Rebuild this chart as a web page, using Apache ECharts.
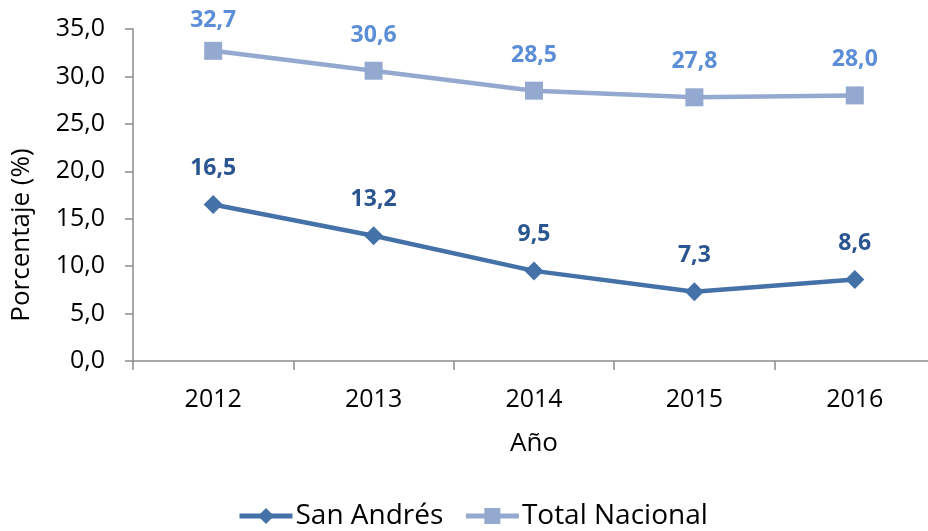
<!DOCTYPE html>
<html>
<head>
<meta charset="utf-8">
<script src="https://cdn.jsdelivr.net/npm/echarts@6/dist/echarts.min.js"></script>
<style>
  html, body { margin: 0; padding: 0; background: #fff; overflow: hidden; }
  #chart { width: 940px; height: 531px; }
</style>
</head>
<body>
<div id="chart"></div>
<script>
// datos
const years = ['2012', '2013', '2014', '2015', '2016']
const sanAndres = [16.5, 13.2, 9.5, 7.3, 8.6]
const totalNacional = [32.7, 30.6, 28.5, 27.8, 28.0]

const font = '"Open Sans", "Noto Sans", sans-serif'
const fmt = v => v.toFixed(1).replace('.', ',')

const chart = echarts.init(document.getElementById('chart'))

// etiqueta pegada al borde superior: Excel la baja un poco
const keepInside = p => {
  const r = p.labelRect
  if (r.y >= 10) return {}
  return { x: r.x + r.width / 2, y: 20, align: 'center', verticalAlign: 'middle' }
}

chart.setOption({
  animation: false,
  textStyle: { fontFamily: font },
  grid: { left: 133, right: 5, top: 29, bottom: 170, containLabel: false },
  legend: {
    top: 502,
    left: 237,
    padding: 0,
    itemWidth: 53,
    itemHeight: 20,
    itemGap: 20,
    lineStyle: { width: 5 },
    textStyle: { fontSize: 28, color: '#000', fontFamily: font, padding: [0, 0, 0, -2] },
    data: ['San Andrés', 'Total Nacional']
  },
  graphic: [{
    type: 'text',
    x: 22,
    y: 235,
    rotation: Math.PI / 2,
    style: {
      text: 'Porcentaje (%)',
      fontSize: 26,
      fontFamily: font,
      fill: '#000',
      align: 'center',
      verticalAlign: 'middle'
    }
  }],
  xAxis: {
    type: 'category',
    data: years,
    boundaryGap: true,
    name: 'Año',
    nameLocation: 'middle',
    nameGap: 70,
    nameTextStyle: { fontSize: 26, color: '#000' },
    axisLine: { lineStyle: { color: '#8c8c8c', width: 1.5 } },
    axisTick: { show: true, length: 9, lineStyle: { color: '#8c8c8c', width: 1.5 } },
    axisLabel: { fontSize: 25, color: '#000', margin: 26 }
  },
  yAxis: {
    type: 'value',
    min: 0,
    max: 35,
    interval: 5,
    axisLine: { show: true, lineStyle: { color: '#8c8c8c', width: 1.5 } },
    axisTick: { show: true, length: 8, lineStyle: { color: '#8c8c8c', width: 1.5 } },
    splitLine: { show: false },
    axisLabel: { fontSize: 25, color: '#000', margin: 28, formatter: fmt }
  },
  series: [
    {
      name: 'San Andrés',
      type: 'line',
      data: sanAndres,
      symbol: 'diamond',
      symbolSize: 19,
      color: '#4471a8',
      lineStyle: { color: '#4471a8', width: 4.5 },
      itemStyle: { color: '#4471a8' },
      label: {
        show: true,
        position: 'top',
        distance: 15,
        fontSize: 23,
        fontWeight: 'bold',
        color: '#2b5591',
        formatter: p => fmt(p.value)
      }
    },
    {
      name: 'Total Nacional',
      type: 'line',
      data: totalNacional,
      symbol: 'rect',
      symbolSize: 18,
      color: '#93a9cf',
      lineStyle: { color: '#93a9cf', width: 4.5 },
      itemStyle: { color: '#93a9cf' },
      label: {
        show: true,
        position: 'top',
        distance: 15,
        fontSize: 23,
        fontWeight: 'bold',
        color: '#5b8ed6',
        formatter: p => fmt(p.value)
      },
      labelLayout: keepInside
    }
  ]
})
</script>
</body>
</html>
